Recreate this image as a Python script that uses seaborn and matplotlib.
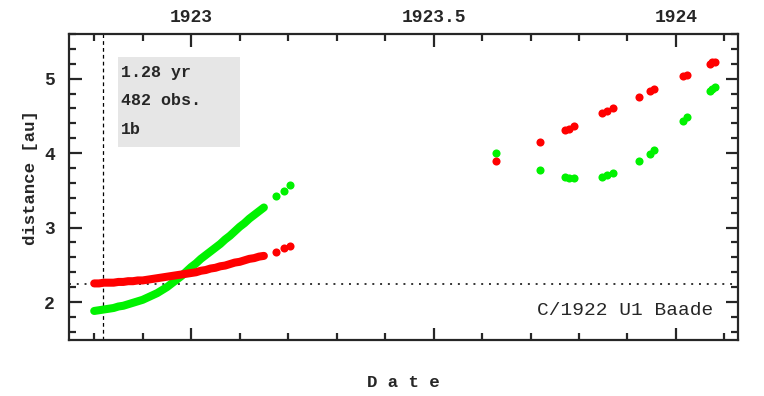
""" Distance plot for comet C/1922 U1 Baade. """

import matplotlib as mpl
import matplotlib.pyplot as plt
import pandas as pd
import seaborn as sns
from matplotlib.ticker import MultipleLocator

# dense arc
dates_a = [1922.80, 1922.81, 1922.82, 1922.83, 1922.84, 1922.85, 1922.86, 1922.87,
           1922.88, 1922.89, 1922.90, 1922.91, 1922.92, 1922.93, 1922.94, 1922.95,
           1922.96, 1922.97, 1922.98, 1922.99, 1923.00, 1923.01, 1923.02, 1923.03,
           1923.04, 1923.05, 1923.06, 1923.07, 1923.08, 1923.09, 1923.10, 1923.11,
           1923.12, 1923.13, 1923.14, 1923.15]
geo_a = [1.88, 1.89, 1.90, 1.91, 1.92, 1.94, 1.95, 1.97,
         1.99, 2.01, 2.03, 2.06, 2.09, 2.12, 2.16, 2.20,
         2.25, 2.30, 2.35, 2.41, 2.47, 2.52, 2.58, 2.63,
         2.68, 2.73, 2.78, 2.84, 2.89, 2.95, 3.01, 3.06,
         3.12, 3.17, 3.22, 3.27]
helio_a = [2.25, 2.25, 2.26, 2.26, 2.26, 2.27, 2.27, 2.28,
           2.28, 2.29, 2.29, 2.30, 2.31, 2.32, 2.33, 2.34,
           2.35, 2.36, 2.37, 2.38, 2.39, 2.40, 2.42, 2.43,
           2.45, 2.46, 2.48, 2.49, 2.51, 2.53, 2.54, 2.56,
           2.58, 2.59, 2.61, 2.62]

# sparse observations
dates_b = [1923.175, 1923.191, 1923.204, 1923.628, 1923.719, 1923.771, 1923.780,
           1923.789, 1923.847, 1923.858, 1923.870, 1923.923, 1923.946, 1923.954,
           1924.014, 1924.022, 1924.070, 1924.075, 1924.080]
geo_b = [3.42, 3.49, 3.57, 4.00, 3.77, 3.68, 3.67,
         3.66, 3.68, 3.70, 3.73, 3.89, 3.99, 4.04,
         4.43, 4.49, 4.83, 4.86, 4.89]
helio_b = [2.67, 2.72, 2.75, 3.89, 4.15, 4.31, 4.33,
           4.36, 4.54, 4.57, 4.60, 4.76, 4.83, 4.86,
           5.03, 5.05, 5.20, 5.22, 5.23]

x_ticks = [1923, 1923.5, 1924]
x_ticklabels = ["1923", "1923.5", "1924"]
y_ticks = [2, 3, 4, 5]
info_lines = ["1.28 yr", "482 obs.", "1b"]
comet = "C/1922 U1 Baade"
arc_start = 1922.819
perihelion_q = 2.24

GREEN = "#00f200"
RED = "#ff0000"


def main():
    sns.set_style("ticks")
    plt.rcParams["font.family"] = ["Liberation Mono", "DejaVu Sans Mono"]

    dense = pd.DataFrame({"date": dates_a, "geo": geo_a, "helio": helio_a})
    sparse = pd.DataFrame({"date": dates_b, "geo": geo_b, "helio": helio_b})

    fig = plt.figure(figsize=(7.64, 3.96), dpi=100)
    ax = fig.add_axes([0.0903, 0.1414, 0.8757, 0.7727])

    # the dense arc is hundreds of overlapping dots -> thick round-capped band
    sns.lineplot(data=dense, x="date", y="geo", color=GREEN, lw=5.8, sort=False,
                 solid_capstyle="round", ax=ax, zorder=3)
    sns.lineplot(data=dense, x="date", y="helio", color=RED, lw=5.8, sort=False,
                 solid_capstyle="round", ax=ax, zorder=4)
    sns.scatterplot(data=sparse, x="date", y="geo", color=GREEN, s=34,
                    linewidth=0, ax=ax, zorder=3)
    sns.scatterplot(data=sparse, x="date", y="helio", color=RED, s=34,
                    linewidth=0, ax=ax, zorder=4)

    ax.axvline(arc_start, color="black", lw=0.9, ls=(0, (3, 2.5)), zorder=2)
    ax.axhline(perihelion_q, color="#333333", lw=1.4, ls=(0, (1, 3)), zorder=2)

    ax.set_xlim(1922.748, 1924.128)
    ax.set_ylim(1.49, 5.60)

    ax.set_xticks(x_ticks)
    ax.set_xticklabels(x_ticklabels)
    ax.xaxis.set_minor_locator(MultipleLocator(0.1))
    ax.set_yticks(y_ticks)
    ax.yaxis.set_minor_locator(MultipleLocator(0.2))

    ax.tick_params(which="both", direction="in", top=True, right=True,
                   labeltop=True, labelbottom=False, width=1.6)
    ax.tick_params(which="major", length=9, pad=6)
    ax.tick_params(axis="y", which="major", pad=10)
    ax.tick_params(which="minor", length=5)
    for lab in ax.get_xticklabels() + ax.get_yticklabels():
        lab.set_fontweight("bold")
        lab.set_fontsize(13)
    for sp in ax.spines.values():
        sp.set_linewidth(1.6)

    ax.set_xlabel("D a t e", fontsize=12.5, fontweight="bold")
    ax.xaxis.set_label_coords(0.5, -0.14)
    ax.xaxis.label.set_va("center")
    ax.set_ylabel("distance [au]", fontsize=12.5, fontweight="bold")
    ax.yaxis.set_label_coords(-0.057, 0.53)
    ax.yaxis.label.set_va("center")

    # info box
    ax.add_patch(mpl.patches.Rectangle((118 / 764, 1 - 147 / 396), 122 / 764, 90 / 396,
                                       transform=fig.transFigure, facecolor="#e6e6e6",
                                       edgecolor="none", zorder=1))
    for i, line in enumerate(info_lines):
        fig.text(121 / 764, 1 - (73 + 28 * i) / 396, line, fontsize=12,
                 fontweight="bold", va="center", ha="left")

    ax.text(0.963, 0.098, comet, transform=ax.transAxes, fontsize=14,
            ha="right", va="center")

    fig.savefig("out.png", dpi=100)


if __name__ == "__main__":
    main()
